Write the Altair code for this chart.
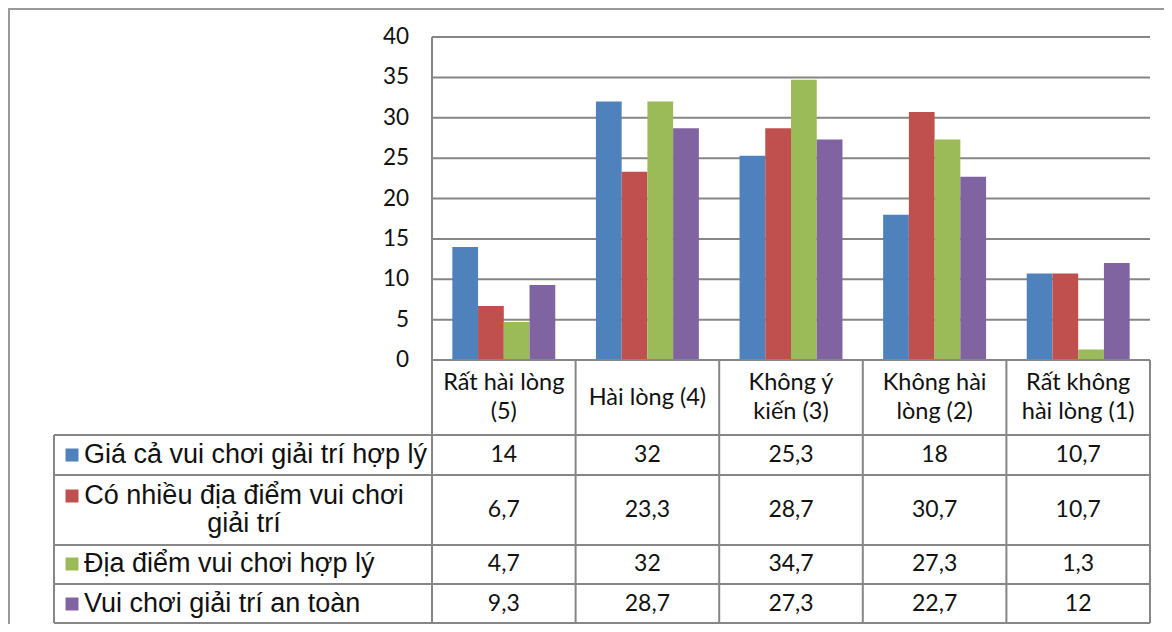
import altair as alt
import pandas as pd

# ---------------- data ----------------
categories = ["Rất hài lòng\n(5)", "Hài lòng (4)", "Không ý\nkiến (3)",
              "Không hài\nlòng (2)", "Rất không\nhài lòng (1)"]
series = ["Giá cả vui chơi giải trí hợp lý",
          "Có nhiều địa điểm vui chơi giải trí",
          "Địa điểm vui chơi hợp lý",
          "Vui chơi giải trí an toàn"]
series_labels = ["Giá cả vui chơi giải trí hợp lý",
                 "Có nhiều địa điểm vui chơi\ngiải trí",
                 "Địa điểm vui chơi hợp lý",
                 "Vui chơi giải trí an toàn"]
gia_ca = [14, 32, 25.3, 18, 10.7]
nhieu_dia_diem = [6.7, 23.3, 28.7, 30.7, 10.7]
dia_diem_hop_ly = [4.7, 32, 34.7, 27.3, 1.3]
an_toan = [9.3, 28.7, 27.3, 22.7, 12]
y_ticks = [0, 5, 10, 15, 20, 25, 30, 35, 40]

colors = ["#4F81BD", "#C0504D", "#9BBB59", "#8064A2"]
GRID = "#868686"
TXT = "#111111"

# ---------------- layout (pixels inside the view) ----------------
W, H = 1156, 616
PX0, PX1 = 424, 1142          # plot area / table category columns
PY_TOP, PY0 = 29, 352          # value 40 and value 0
LEG_X0 = 46                    # left edge of table legend column
ROW_BOUNDS = [427, 467, 537, 576, 615]
ROW_CENTERS = [447, 502, 556, 596]
HEADER_Y = 389.5
HEADER_LH = 29
LEG_LH = 28

rows = []
for s, vals in zip(series, [gia_ca, nhieu_dia_diem, dia_diem_hop_ly, an_toan]):
    for c, v in zip(categories, vals):
        rows.append({"cat": c, "series": s, "value": v,
                     "label": f"{v:g}".replace(".", ",")})
df = pd.DataFrame(rows)
tick_df = pd.DataFrame({"tick": y_ticks})
cat_df = pd.DataFrame({"cat": categories})
cat_df["lines"] = cat_df["cat"].str.count("\n") + 1
one = pd.DataFrame({"a": [0]})

xs = alt.Scale(domain=categories, range=[PX0, PX1], paddingInner=0, paddingOuter=0)
ys = alt.Scale(domain=[0, 40], range=[PY0, PY_TOP], nice=False, zero=True)
cs = alt.Scale(domain=series, range=colors)

layers = []

# outer frame (left and top edges)
layers.append(alt.Chart(one).mark_rule(color="#9a9a9a", strokeWidth=2).encode(
    x=alt.value(1), y=alt.value(0), y2=alt.value(H)))
layers.append(alt.Chart(one).mark_rule(color="#9a9a9a", strokeWidth=2).encode(
    x=alt.value(0), x2=alt.value(W), y=alt.value(1)))

# gridlines
layers.append(alt.Chart(tick_df).mark_rule(color=GRID, strokeWidth=2).encode(
    y=alt.Y("tick:Q", scale=ys, axis=None), x=alt.value(PX0), x2=alt.value(PX1)))

# y labels
layers.append(alt.Chart(tick_df).mark_text(
    align="right", baseline="middle", font="Lato", fontSize=22.5, color=TXT).encode(
    y=alt.Y("tick:Q", scale=ys, axis=None), x=alt.value(401), text="tick:Q"))

# bars
layers.append(alt.Chart(df).mark_bar().encode(
    x=alt.X("cat:N", scale=xs, axis=None),
    xOffset=alt.XOffset("series:N", scale=alt.Scale(domain=series, paddingInner=0,
                                                      paddingOuter=0.79)),
    y=alt.Y("value:Q", scale=ys, axis=None),
    color=alt.Color("series:N", scale=cs, legend=None),
))

# table: vertical lines
layers.append(alt.Chart(cat_df).mark_rule(color=GRID, strokeWidth=2).encode(
    x=alt.X("cat:N", scale=xs, axis=None, bandPosition=0),
    y=alt.value(PY0), y2=alt.value(ROW_BOUNDS[-1])))
layers.append(alt.Chart(one).mark_rule(color=GRID, strokeWidth=2).encode(
    x=alt.value(PX0), y=alt.value(PY_TOP), y2=alt.value(PY0)))
layers.append(alt.Chart(one).mark_rule(color=GRID, strokeWidth=2).encode(
    x=alt.value(PX1), y=alt.value(PY0), y2=alt.value(ROW_BOUNDS[-1])))
layers.append(alt.Chart(one).mark_rule(color=GRID, strokeWidth=2).encode(
    x=alt.value(LEG_X0), y=alt.value(ROW_BOUNDS[0]), y2=alt.value(ROW_BOUNDS[-1])))

# table: horizontal lines
layers.append(alt.Chart(one).mark_rule(color=GRID, strokeWidth=2).encode(
    y=alt.value(PY0), x=alt.value(PX0), x2=alt.value(PX1)))
for yb in ROW_BOUNDS:
    layers.append(alt.Chart(one).mark_rule(color=GRID, strokeWidth=2).encode(
        y=alt.value(yb), x=alt.value(LEG_X0), x2=alt.value(PX1)))

# header labels (one- and two-line cells, vertically centred)
for n in sorted(cat_df["lines"].unique()):
    sub = cat_df[cat_df["lines"] == n]
    layers.append(alt.Chart(sub).mark_text(
        font="Lato", fontSize=23.5, color=TXT, baseline="middle", lineBreak="\n",
        lineHeight=HEADER_LH).encode(
        x=alt.X("cat:N", scale=xs, axis=None),
        y=alt.value(HEADER_Y - (n - 1) * HEADER_LH / 2), text="cat:N"))

# values and legend rows
for i, s in enumerate(series):
    sub = df[df["series"] == s]
    layers.append(alt.Chart(sub).mark_text(
        font="Lato", fontSize=23, color=TXT, baseline="middle").encode(
        x=alt.X("cat:N", scale=xs, axis=None), y=alt.value(ROW_CENTERS[i]),
        text="label:N"))
    lab = pd.DataFrame({"series": [s], "label": [series_labels[i]]})
    multi = "\n" in series_labels[i]
    sw_y = ROW_CENTERS[i] - LEG_LH / 2 if multi else ROW_CENTERS[i]
    layers.append(alt.Chart(lab).mark_square(size=169, opacity=1).encode(
        x=alt.value(64), y=alt.value(sw_y),
        color=alt.Color("series:N", scale=cs, legend=None)))
    if multi:
        layers.append(alt.Chart(lab).mark_text(
            font="Liberation Sans", fontSize=27, color=TXT, align="center",
            baseline="middle", lineBreak="\n", lineHeight=LEG_LH).encode(
            x=alt.value(236), y=alt.value(ROW_CENTERS[i] - LEG_LH / 2),
            text="label:N"))
    else:
        layers.append(alt.Chart(lab).mark_text(
            font="Liberation Sans", fontSize=27, color=TXT, align="left",
            baseline="middle").encode(
            x=alt.value(76), y=alt.value(ROW_CENTERS[i]), text="label:N"))

chart = alt.layer(*layers).properties(
    width=W, height=H, padding=0,
    autosize=alt.AutoSizeParams(type="none"),
).configure_view(stroke=None).configure(background="white")

chart.save("out.html", embed_options={"renderer": "svg", "actions": False})
